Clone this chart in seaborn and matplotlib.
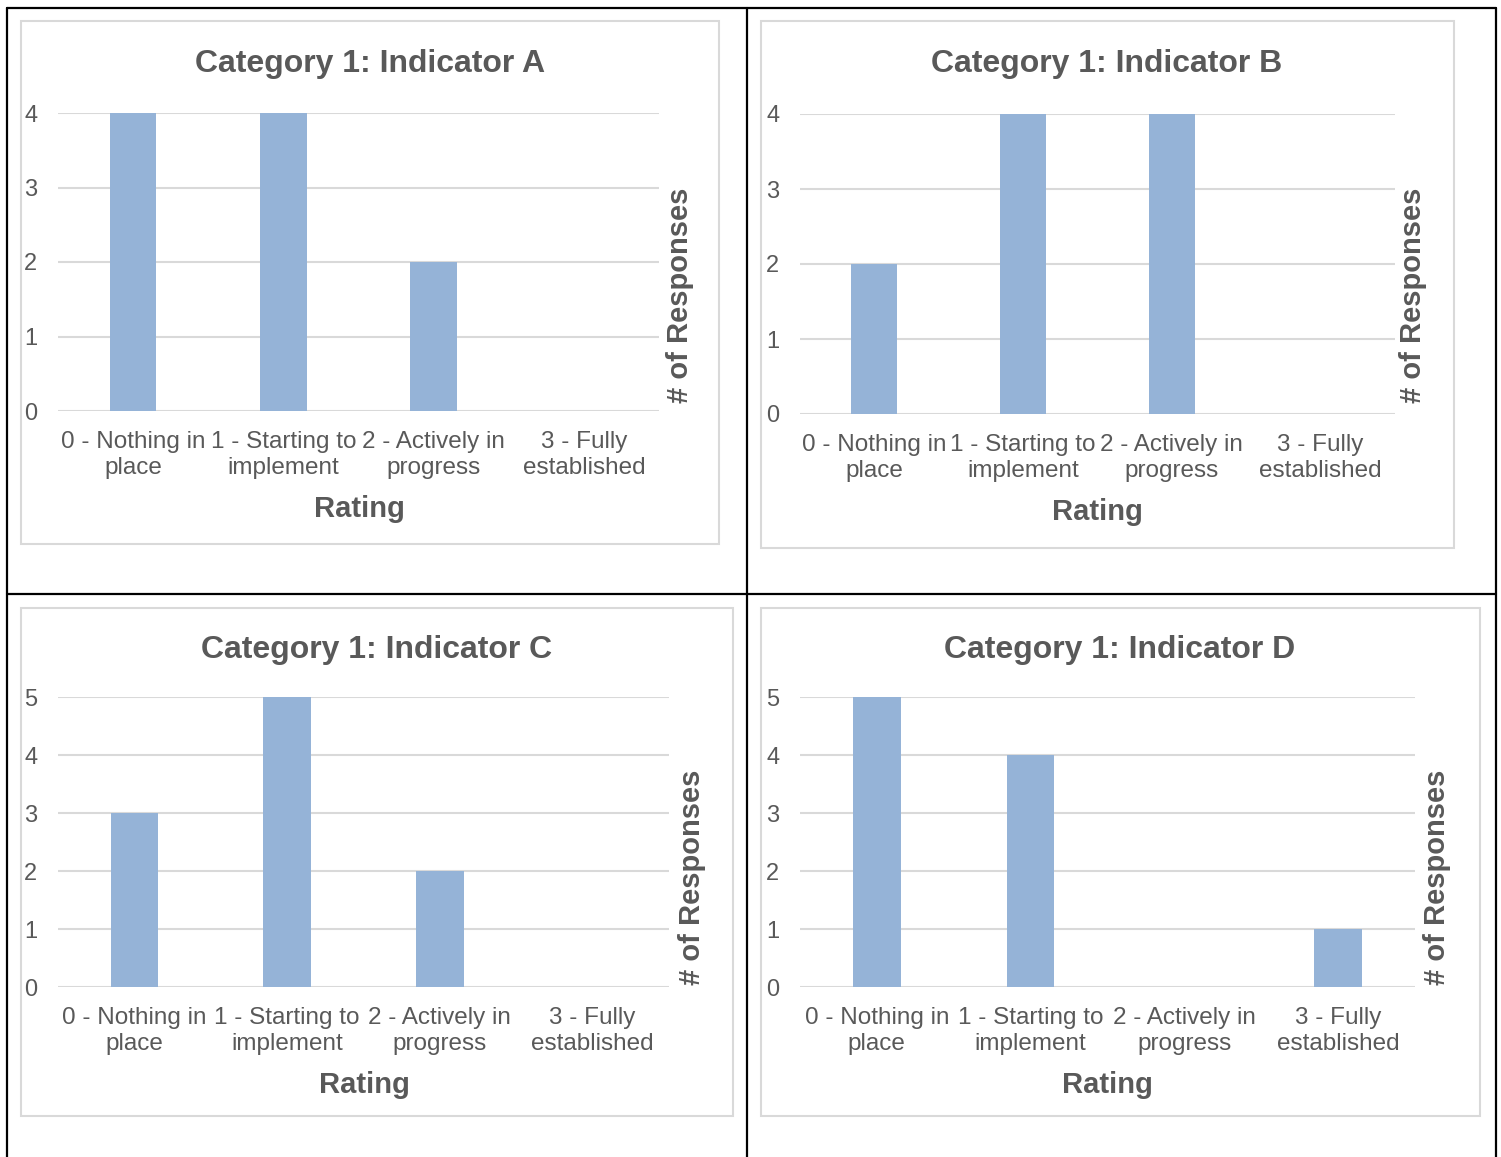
import matplotlib
matplotlib.use("Agg")
import matplotlib.pyplot as plt
from matplotlib.patches import Rectangle
from matplotlib.lines import Line2D
import seaborn as sns

sns.set_theme(style="white")
plt.rcParams['font.family'] = ['Liberation Sans', 'DejaVu Sans']

categories = ["0 - Nothing in\nplace", "1 - Starting to\nimplement",
              "2 - Actively in\nprogress", "3 - Fully\nestablished"]
titles = ["Category 1: Indicator A", "Category 1: Indicator B",
          "Category 1: Indicator C", "Category 1: Indicator D"]
values_a = [4, 4, 2, 0]
values_b = [2, 4, 4, 0]
values_c = [3, 5, 2, 0]
values_d = [5, 4, 0, 1]
ymax_list = [4, 4, 5, 5]
x_label = "Rating"
y_label = "# of Responses"

W, H = 1501, 1157
fig = plt.figure(figsize=(W / 100, H / 100), dpi=100)

TEXT = "#595959"
GRID = "#D9D9D9"
BAR = "#95B3D7"


def fx(x):
    return x / W


def fy(y):
    return 1 - y / H


# layout: box, plot area, title pos, ylabel pos, xlabel pos (pixels)
layouts = [
    dict(box=(21, 21, 719, 544), plot=(58, 113, 659, 411), title=(370, 64), ylab=(680, 295), xlab=(359, 509)),
    dict(box=(761, 21, 1454, 548), plot=(800, 114, 1395, 414), title=(1107, 64), ylab=(1413, 295), xlab=(1097, 512)),
    dict(box=(21, 608, 733, 1116), plot=(58, 697, 669, 987), title=(377, 650), ylab=(692, 877), xlab=(364, 1085)),
    dict(box=(761, 608, 1480, 1116), plot=(800, 697, 1415, 987), title=(1120, 650), ylab=(1437, 877), xlab=(1107, 1085)),
]
all_values = [values_a, values_b, values_c, values_d]

for lay, vals, title, ymax in zip(layouts, all_values, titles, ymax_list):
    bx0, by0, bx1, by1 = lay["box"]
    fig.patches.append(Rectangle((fx(bx0), fy(by1)), fx(bx1 - bx0), (by1 - by0) / H,
                                 transform=fig.transFigure, facecolor="none",
                                 edgecolor=GRID, linewidth=1.5, zorder=-1))
    px0, py0, px1, py1 = lay["plot"]
    ax = fig.add_axes([fx(px0), fy(py1), fx(px1 - px0), (py1 - py0) / H])
    ax.set_facecolor("none")
    sns.barplot(x=categories, y=vals, ax=ax, color=BAR, saturation=1, width=0.31,
                edgecolor="none", linewidth=0, zorder=3)
    ax.set_ylim(0, ymax)
    ax.set_xlim(-0.5, 3.5)
    ax.set_yticks(range(0, ymax + 1))
    ax.yaxis.grid(True, color=GRID, linewidth=1.5, zorder=0)
    ax.xaxis.grid(False)
    ax.set_axisbelow(True)
    for s in ax.spines.values():
        s.set_visible(False)
    ax.tick_params(axis="y", length=0, pad=15, labelsize=17, labelcolor=TEXT)
    ax.tick_params(axis="x", length=0, pad=14.5, labelsize=17.5, labelcolor=TEXT)
    for t in ax.get_xticklabels():
        t.set_linespacing(1.25)
    for p in ax.patches:
        p.set_clip_on(False)
    ax.set_xlabel("")
    ax.set_ylabel("")
    fig.text(fx(lay["title"][0]), fy(lay["title"][1]), title, ha="center", va="center",
             fontsize=23, fontweight="bold", color=TEXT)
    fig.text(fx(lay["ylab"][0]), fy(lay["ylab"][1]), y_label, ha="center", va="center",
             rotation=90, fontsize=21, fontweight="bold", color=TEXT)
    fig.text(fx(lay["xlab"][0]), fy(lay["xlab"][1]), x_label, ha="center", va="center",
             fontsize=21, fontweight="bold", color=TEXT)

# table borders
for (x0, y0, x1, y1) in [(7, 8, 1496, 8), (7, 8, 7, 1157), (1496, 8, 1496, 1157),
                         (747, 8, 747, 1157), (7, 594, 1496, 594)]:
    fig.lines.append(Line2D([fx(x0), fx(x1)], [fy(y0), fy(y1)], transform=fig.transFigure,
                            color="black", linewidth=1.6, zorder=10))

fig.savefig("out.png", dpi=100)
